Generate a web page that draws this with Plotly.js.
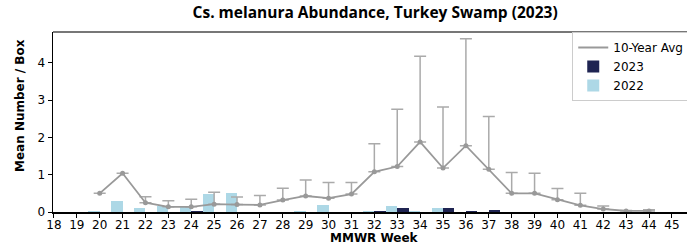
<!DOCTYPE html>
<html><head><meta charset="utf-8">
<script src="https://cdn.plot.ly/plotly-3.0.1.min.js"></script>
<style>html,body{margin:0;padding:0;background:#fff}#chart{width:687px;height:246px}</style>
</head><body><div id="chart"></div>
<script>
const weeks = [18,19,20,21,22,23,24,25,26,27,28,29,30,31,32,33,34,35,36,37,38,39,40,41,42,43,44,45];
const avg10 = [null,null,0.50,1.04,0.25,0.14,0.14,0.21,0.20,0.19,0.32,0.43,0.37,0.48,1.08,1.22,1.88,1.18,1.78,1.15,0.50,0.50,0.33,0.18,0.08,0.03,0.03,null];
const avgUpper = [null,null,0.50,1.04,0.41,0.30,0.34,0.53,0.40,0.44,0.64,0.86,0.79,0.79,1.83,2.76,4.18,2.82,4.65,2.56,1.06,1.04,0.63,0.50,0.16,0.04,0.06,null];
const y2023 = [0,0,0,0,0,0,0.03,0,0,0,0,0,0,0,0.03,0.10,0,0.10,0.03,0.06,0,0,0,0,0,0,0,0];
const y2022 = [0,0,0.02,0.30,0.10,0.15,0.13,0.48,0.50,0,0,0.04,0.18,0,0.03,0.15,0.04,0.10,0,0,0,0,0,0,0,0,0,0];
const tickLabels = weeks.map(String);

const errPlus = avg10.map((v,i)=> v==null ? null : Math.max(0, avgUpper[i]-v));

const traces = [
  {type:'bar', x:weeks, y:y2022, name:'2022', marker:{color:'#add8e6'}, legendrank:3},
  {type:'bar', x:weeks, y:y2023, name:'2023', marker:{color:'#1f2452'}, legendrank:2},
  {type:'scatter', mode:'lines+markers', x:weeks, y:avg10, name:'10-Year Avg', showlegend:false,
   line:{color:'#999999', width:1.8}, marker:{color:'#999999', size:5},
   error_y:{type:'data', symmetric:false, array:errPlus, arrayminus:avg10.map(()=>0), color:'#aaaaaa', thickness:1.5, width:6}},
  {type:'scatter', mode:'lines', x:[null], y:[null], name:'10-Year Avg', legendrank:1, line:{color:'#999999', width:1.8}}
];

const layout = {
  width:687, height:246,
  margin:{l:53, r:0, t:32, b:34, autoexpand:false},
  paper_bgcolor:'#fff', plot_bgcolor:'#fff',
  barmode:'group', bargap:0, bargroupgap:0,
  showlegend:true,
  title:{text:'<b>Cs. melanura Abundance, Turkey Swamp (2023)</b>', font:{family:'Open Sans, Liberation Sans, sans-serif', size:15.5, color:'#000'}, x:0.546, xanchor:'center', y:0.95, yanchor:'middle'},
  font:{family:'DejaVu Sans, sans-serif', size:12, color:'#000'},
  xaxis:{range:[17.96,45.66], tickmode:'array', tickvals:weeks, ticktext:tickLabels, ticks:'outside', ticklen:4, tickcolor:'#000',
    showline:true, linecolor:'#000', linewidth:1.5, showgrid:false, zeroline:false, ticklabelstandoff:-3,
    tickfont:{family:'DejaVu Sans, sans-serif', size:12}},
  yaxis:{range:[0,4.83], tickvals:[0,1,2,3,4], ticks:'outside', ticklen:4, tickcolor:'#000',
    showline:true, linecolor:'#000', linewidth:1.5, showgrid:false, zeroline:false,
    tickfont:{family:'DejaVu Sans, sans-serif', size:12}},
  annotations:[
    {text:'<b>MMWR Week</b>', xref:'paper', yref:'paper', x:(375-53)/634, y:0, yshift:-26, xanchor:'center', yanchor:'middle', showarrow:false, font:{family:'DejaVu Sans, sans-serif', size:12}},
    {text:'<b>Mean Number / Box</b>', xref:'paper', yref:'paper', x:0, xshift:-33, y:(212-106)/180, xanchor:'center', yanchor:'middle', textangle:-90, showarrow:false, font:{family:'DejaVu Sans, sans-serif', size:12}}
  ],
  legend:{x:0.819, xanchor:'left', y:1.0, yanchor:'top', bgcolor:'#fff', bordercolor:'#cccccc', borderwidth:1,
    font:{family:'DejaVu Sans, sans-serif', size:12}, tracegroupgap:0, itemwidth:30},
  shapes:[{type:'line', xref:'paper', yref:'paper', x0:0, x1:1, y0:1, y1:1, line:{color:'#777', width:2}}]
};

Plotly.newPlot('chart', traces, layout, {displayModeBar:false, staticPlot:true});
</script></body></html>
